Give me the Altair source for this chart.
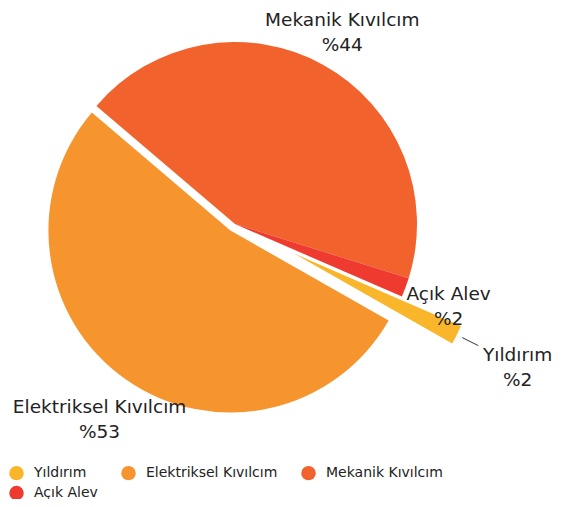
import altair as alt
import pandas as pd

categories = ["Yıldırım", "Elektriksel Kıvılcım", "Mekanik Kıvılcım", "Açık Alev"]
values = [1.7, 53.0, 43.6, 1.7]
colors = ["#F9B62B", "#F6952E", "#F1622C", "#EE3A2F"]

df = pd.DataFrame({"kategori": categories, "deger": values, "sira": list(range(len(categories)))})

CX, CY, R = 227, 216, 182
START = 113.5
FONT = "DejaVu Sans"

base = (
    alt.Chart(df)
    .transform_joinaggregate(total="sum(deger)")
    .transform_window(cum="sum(deger)", sort=[alt.SortField("sira")], frame=[None, 0])
    .transform_calculate(
        t1=f"{START}*PI/180 + 2*PI*datum.cum/datum.total",
        t0="datum.t1 - 2*PI*datum.deger/datum.total",
        mid="(datum.t0 + datum.t1)/2",
        off="datum.kategori == 'Yıldırım' ? 66 : (datum.kategori == 'Elektriksel Kıvılcım' ? 8 : 0)",
        px=f"{CX} + datum.off*sin(datum.mid)",
        py=f"{CY} - datum.off*cos(datum.mid)",
        lr="datum.kategori == 'Yıldırım' ? 250 : (datum.kategori == 'Mekanik Kıvılcım' ? 222 : 228)",
        lx="datum.px + datum.lr*sin(datum.mid)",
        ly="datum.py - datum.lr*cos(datum.mid)",
        r1x="datum.px + 188*sin(datum.mid)",
        r1y="datum.py - 188*cos(datum.mid)",
        r2x="datum.px + 206*sin(datum.mid)",
        r2y="datum.py - 206*cos(datum.mid)",
        etiket="datum.kategori + '\\n%' + format(datum.deger, '.0f')",
    )
)

color = alt.Color(
    "kategori:N",
    scale=alt.Scale(domain=categories, range=colors),
    sort=categories,
    legend=alt.Legend(
        orient="none", legendX=1, legendY=457.5, direction="horizontal", columns=3,
        symbolType="circle", symbolSize=210, symbolStrokeWidth=0, symbolOpacity=1,
        labelFontSize=14, labelFont=FONT, labelColor="#222", labelOffset=10,
        title=None, columnPadding=23, rowPadding=5, padding=0,
    ),
)

arcs = base.mark_arc(outerRadius=R, stroke=None).encode(
    theta=alt.Theta("t0:Q", scale=None),
    theta2="t1:Q",
    x=alt.X("px:Q", scale=None),
    y=alt.Y("py:Q", scale=None),
    color=color,
)

labels = base.mark_text(
    fontSize=18.5, lineHeight=25, font=FONT, color="#222", align="center",
    baseline="middle", lineBreak="\n", dy=-10,
).encode(
    x=alt.X("lx:Q", scale=None),
    y=alt.Y("ly:Q", scale=None),
    text="etiket:N",
)

leader = base.transform_filter("datum.kategori == 'Yıldırım'").mark_rule(
    color="#333", strokeWidth=1
).encode(
    x=alt.X("r1x:Q", scale=None),
    y=alt.Y("r1y:Q", scale=None),
    x2="r2x:Q",
    y2="r2y:Q",
)

chart = (
    alt.layer(arcs, leader, labels)
    .properties(width=546, height=491, autosize="none", padding=0)
    .configure_view(stroke=None)
)

chart.save("out.html", embed_options={"renderer": "svg", "actions": False})
